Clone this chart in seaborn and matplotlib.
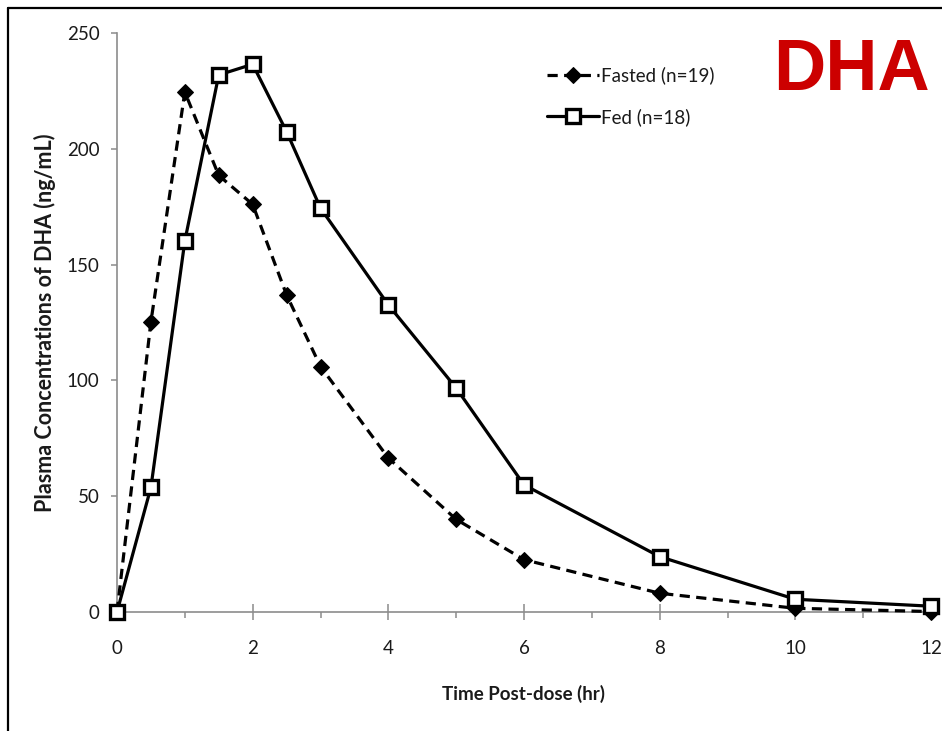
import matplotlib
matplotlib.use("Agg")
import matplotlib.pyplot as plt
from matplotlib.lines import Line2D
from matplotlib.ticker import MultipleLocator
import seaborn as sns
import pandas as pd

# Mean plasma DHA concentrations (ng/mL) by time post-dose (hr)
time_hr = [0, 0.5, 1, 1.5, 2, 2.5, 3, 4, 5, 6, 8, 10, 12]
fasted = [0, 125.3, 224.5, 188.5, 176.0, 136.9, 106.0, 66.5, 40.0, 22.6, 8.1, 1.6, 0.2]
fed = [0, 53.8, 160.2, 231.9, 236.5, 207.4, 174.4, 132.6, 96.7, 54.9, 23.9, 5.5, 2.5]
series_labels = ["Fasted (n=19)", "Fed (n=18)"]

sns.set_theme(style="white")
plt.rcParams["font.family"] = ["Lato", "DejaVu Sans"]

fig = plt.figure(figsize=(9.42, 7.31), dpi=100)
ax = fig.add_axes([117 / 942, 1 - 612 / 731, (931 - 117) / 942, (612 - 33) / 731])

df_fasted = pd.DataFrame({"time": time_hr, "conc": fasted})
df_fed = pd.DataFrame({"time": time_hr, "conc": fed})

sns.lineplot(data=df_fasted, x="time", y="conc", ax=ax, color="black",
             linewidth=2.3, linestyle=(0, (3.2, 2.0)), marker="D",
             markersize=8.5, markerfacecolor="black", markeredgecolor="black",
             label=series_labels[0], zorder=3)
sns.lineplot(data=df_fed, x="time", y="conc", ax=ax, color="black",
             linewidth=2.3, linestyle="-", marker="s", markersize=9.5,
             markerfacecolor="white", markeredgecolor="black",
             markeredgewidth=2.4, label=series_labels[1], zorder=4)

ax.set_xlim(0, 12)
ax.set_ylim(0, 250)
ax.xaxis.set_major_locator(MultipleLocator(2))
ax.xaxis.set_minor_locator(MultipleLocator(1))
ax.yaxis.set_major_locator(MultipleLocator(50))

for side in ["top", "right"]:
    ax.spines[side].set_visible(False)
for side in ["left", "bottom"]:
    ax.spines[side].set_color("#8c8c8c")
    ax.spines[side].set_linewidth(1.2)
    ax.spines[side].set_zorder(1)
for ln in ax.lines:
    ln.set_clip_on(False)

ax.tick_params(axis="x", which="major", direction="inout", length=11,
               width=1.1, color="#8c8c8c", labelsize=13.5, pad=15, bottom=True)
ax.tick_params(axis="x", which="minor", direction="out", length=4.5,
               width=1.1, color="#8c8c8c", bottom=True)
ax.tick_params(axis="y", which="major", direction="out", length=4.5,
               width=1.1, color="#8c8c8c", labelsize=13.5, pad=8, left=True)
for lab in ax.get_xticklabels() + ax.get_yticklabels():
    lab.set_color("#1a1a1a")

ax.set_xlabel("Time Post-dose (hr)", fontsize=13.5, fontweight="bold",
              labelpad=20, color="#1a1a1a")
ax.set_ylabel("Plasma Concentrations of DHA (ng/mL)", fontsize=15.5,
              fontweight="bold", labelpad=8, color="#1a1a1a")

leg = ax.legend(loc="upper left", bbox_to_anchor=(0.519, 0.955), frameon=False,
                fontsize=13.5, handlelength=2.8, handletextpad=0.1,
                labelspacing=1.25, borderaxespad=0)
for t in leg.get_texts():
    t.set_color("#1a1a1a")

fig.text(773 / 942, 1 - 90 / 731, "DHA", color="#cc0000", fontsize=52,
         fontweight="bold", family="Liberation Sans", ha="left",
         va="baseline")

# outer frame lines along the top and left edges
fig.add_artist(Line2D([8 / 942, 1.0], [1 - 8 / 731, 1 - 8 / 731],
                      transform=fig.transFigure, color="black", linewidth=1.6))
fig.add_artist(Line2D([8 / 942, 8 / 942], [0, 1 - 8 / 731],
                      transform=fig.transFigure, color="black", linewidth=1.6))

fig.savefig("out.png", dpi=100)
